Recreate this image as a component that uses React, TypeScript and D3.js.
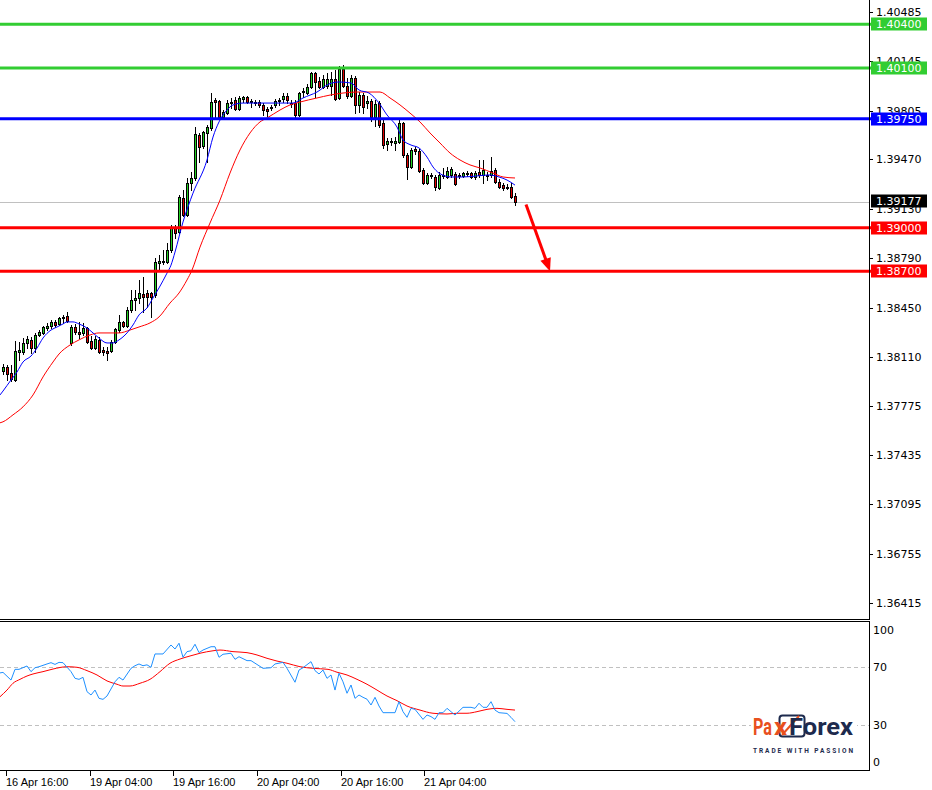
import React from 'react';
import * as d3 from 'd3';

// ---------- DATA ----------
const openPrices = [
  1.38013,1.38041,1.37999,1.37951,1.38144,1.38144,1.38206,1.38227,1.38171,1.38261,
  1.38275,1.38309,1.38323,1.38351,1.38337,1.38378,1.38392,1.38206,1.38316,1.38282,
  1.38275,1.38309,1.38220,1.38171,1.38227,1.38158,1.38151,1.38151,1.38213,1.38295,
  1.38351,1.38323,1.38433,1.38502,1.38516,1.38543,1.38550,1.38550,1.38536,1.38756,
  1.38763,1.38763,1.38846,1.38997,1.38970,1.39204,1.39087,1.39307,1.39341,1.39638,
  1.39562,1.39652,1.39686,1.39879,1.39872,1.39762,1.39789,1.39858,1.39879,1.39817,
  1.39886,1.39900,1.39872,1.39865,1.39865,1.39845,1.39817,1.39824,1.39845,1.39872,
  1.39886,1.39907,1.39858,1.39858,1.39776,1.39934,1.39927,1.39969,1.40065,1.40010,
  1.39969,1.39976,1.39976,1.40024,1.39893,1.40093,1.39976,1.39907,1.40031,1.39845,
  1.39913,1.39858,1.39872,1.39762,1.39858,1.39721,1.39576,1.39597,1.39583,1.39590,
  1.39721,1.39501,1.39418,1.39542,1.39528,1.39397,1.39308,1.39363,1.39349,1.39273,
  1.39356,1.39349,1.39363,1.39370,1.39356,1.39356,1.39376,1.39376,1.39349,1.39383,
  1.39363,1.39363,1.39363,1.39397,1.39314,1.39293,1.39280,1.39280,1.39218
];
const highPrices = [
  1.38061,1.38054,1.38054,1.38220,1.38213,1.38240,1.38254,1.38247,1.38275,1.38295,
  1.38323,1.38344,1.38364,1.38364,1.38385,1.38399,1.38419,1.38330,1.38337,1.38351,
  1.38344,1.38316,1.38254,1.38254,1.38247,1.38178,1.38178,1.38227,1.38309,1.38399,
  1.38357,1.38454,1.38571,1.38571,1.38640,1.38660,1.38571,1.38557,1.38791,1.38811,
  1.38846,1.38894,1.39018,1.39018,1.39224,1.39259,1.39341,1.39383,1.39693,1.39652,
  1.39666,1.39707,1.39927,1.39893,1.39879,1.39810,1.39879,1.39893,1.39900,1.39907,
  1.39907,1.39907,1.39886,1.39879,1.39879,1.39858,1.39831,1.39845,1.39886,1.39893,
  1.39927,1.39927,1.39879,1.39879,1.39934,1.39962,1.39989,1.40072,1.40072,1.40037,
  1.40051,1.40065,1.40072,1.40086,1.40113,1.40120,1.40031,1.40051,1.40045,1.39934,
  1.39927,1.39907,1.39886,1.39879,1.39872,1.39741,1.39617,1.39617,1.39624,1.39748,
  1.39728,1.39514,1.39549,1.39556,1.39542,1.39411,1.39376,1.39376,1.39363,1.39383,
  1.39411,1.39418,1.39418,1.39383,1.39376,1.39383,1.39390,1.39383,1.39390,1.39466,
  1.39466,1.39383,1.39486,1.39411,1.39335,1.39308,1.39301,1.39308,1.39238
];
const lowPrices = [
  1.37992,1.37951,1.37944,1.37944,1.38089,1.38130,1.38171,1.38137,1.38144,1.38254,
  1.38268,1.38295,1.38309,1.38316,1.38330,1.38344,1.38351,1.38192,1.38268,1.38240,
  1.38261,1.38206,1.38165,1.38165,1.38137,1.38123,1.38089,1.38144,1.38206,1.38282,
  1.38316,1.38316,1.38419,1.38433,1.38481,1.38419,1.38454,1.38385,1.38523,1.38708,
  1.38749,1.38756,1.38832,1.38928,1.38963,1.39080,1.39080,1.39259,1.39328,1.39452,
  1.39548,1.39452,1.39672,1.39755,1.39755,1.39755,1.39783,1.39824,1.39810,1.39810,
  1.39865,1.39858,1.39831,1.39845,1.39831,1.39776,1.39769,1.39810,1.39831,1.39845,
  1.39865,1.39858,1.39831,1.39762,1.39769,1.39900,1.39920,1.39962,1.39900,1.39962,
  1.39962,1.39962,1.39913,1.39879,1.39886,1.39969,1.39893,1.39900,1.39789,1.39796,
  1.39789,1.39824,1.39734,1.39700,1.39693,1.39548,1.39535,1.39569,1.39535,1.39583,
  1.39486,1.39334,1.39411,1.39507,1.39383,1.39301,1.39301,1.39342,1.39259,1.39266,
  1.39342,1.39342,1.39349,1.39293,1.39342,1.39349,1.39356,1.39342,1.39335,1.39349,
  1.39308,1.39328,1.39349,1.39308,1.39273,1.39259,1.39266,1.39204,1.39156
];
const closePrices = [
  1.38041,1.37992,1.37958,1.38151,1.38158,1.38206,1.38233,1.38171,1.38261,1.38282,
  1.38316,1.38323,1.38351,1.38330,1.38378,1.38385,1.38357,1.38316,1.38282,1.38268,
  1.38309,1.38213,1.38171,1.38233,1.38144,1.38144,1.38137,1.38213,1.38302,1.38351,
  1.38323,1.38433,1.38502,1.38516,1.38550,1.38523,1.38523,1.38523,1.38763,1.38770,
  1.38770,1.38846,1.39004,1.38963,1.39211,1.39087,1.39307,1.39341,1.39645,1.39555,
  1.39659,1.39693,1.39865,1.39865,1.39762,1.39796,1.39858,1.39865,1.39817,1.39893,
  1.39900,1.39865,1.39865,1.39858,1.39845,1.39810,1.39803,1.39831,1.39872,1.39879,
  1.39907,1.39879,1.39851,1.39776,1.39927,1.39941,1.39969,1.40065,1.40003,1.39969,
  1.40024,1.40024,1.40024,1.39886,1.40093,1.39976,1.39907,1.40031,1.39845,1.39913,
  1.39831,1.39872,1.39762,1.39851,1.39707,1.39569,1.39597,1.39590,1.39597,1.39721,
  1.39501,1.39418,1.39535,1.39528,1.39390,1.39308,1.39363,1.39356,1.39280,1.39363,
  1.39363,1.39390,1.39404,1.39301,1.39363,1.39376,1.39370,1.39349,1.39376,1.39363,
  1.39397,1.39356,1.39390,1.39314,1.39280,1.39273,1.39273,1.39211,1.39177
];

// fast MA (blue) [bar index, price]
const fastMA: [number, number][] = [
  [-0.75,1.37848],[0,1.37875],[2,1.37951],[3.5,1.38006],[5,1.38075],[7,1.38116],[8.5,1.38171],
  [10,1.38240],[12,1.38295],[13.5,1.38316],[15,1.38337],[16,1.38351],[17.5,1.38351],[19,1.38337],
  [21,1.38309],[22.5,1.38275],[24,1.38240],[26,1.38206],[27.5,1.38206],[29,1.38227],[31,1.38275],
  [32.5,1.38330],[34,1.38399],[36,1.38447],[37.5,1.38516],[39,1.38585],[41,1.38687],[42,1.38742],
  [43,1.38832],[45,1.39039],[47.5,1.39238],[51,1.39466],[52.5,1.39624],[54,1.39728],[56,1.39810],
  [57.5,1.39845],[60,1.39858],[63.5,1.39858],[67,1.39858],[70,1.39858],[72.5,1.39858],[75,1.39893],
  [78.5,1.39934],[81.5,1.39989],[84,1.40003],[87,1.39996],[89,1.39948],[91.5,1.39927],[94,1.39858],
  [96,1.39776],[98.5,1.39693],[100,1.39604],[102,1.39569],[104,1.39549],[106,1.39486],[107.5,1.39418],
  [109,1.39376],[112,1.39349],[115,1.39349],[118.5,1.39356],[121.5,1.39363],[124,1.39349],
  [126,1.39328],[128,1.39293]
];
// slow MA (red)
const slowMA: [number, number][] = [
  [-0.75,1.37656],[0,1.37663],[2.5,1.37711],[5,1.37766],[7.5,1.37848],[10,1.37972],[12.5,1.38075],
  [14,1.38130],[16.75,1.38192],[19,1.38227],[21.75,1.38261],[24,1.38275],[26.75,1.38275],[29,1.38275],
  [31.75,1.38295],[34,1.38316],[36.75,1.38344],[39,1.38385],[41.75,1.38481],[44,1.38550],[46,1.38640],
  [47.25,1.38708],[49.25,1.38866],[51.75,1.39032],[54.25,1.39190],[56.75,1.39376],[59.25,1.39535],
  [61.75,1.39652],[64.25,1.39728],[66,1.39755],[69.25,1.39810],[71.75,1.39845],[74.25,1.39865],
  [78.5,1.39893],[81.75,1.39913],[85,1.39927],[88.5,1.39934],[91.75,1.39934],[94.25,1.39934],
  [96.75,1.39893],[99.25,1.39845],[101.75,1.39789],[104.25,1.39728],[106.75,1.39652],[109.25,1.39583],
  [111.75,1.39514],[114.25,1.39466],[116.75,1.39432],[119.25,1.39411],[122.5,1.39376],[125,1.39349],
  [128,1.39342]
];

// RSI (blue) and its signal (red) [bar index, value]
const rsiLine: [number, number][] = [
  [-1,66],[0,66.5],[2,61.2],[3,68.6],[4,68.6],[6,70.9],[7,67],[8,69.7],[9,70.4],[11,72.3],[12,73.2],
  [13,72],[14,73.4],[15,73.2],[17,67],[18,62.4],[19,61.7],[20,63.1],[21,53.2],[22,50.9],[23,54.3],
  [24,48.6],[25,47.9],[26,50.2],[28,60],[29,63.1],[30,61.2],[32,69.3],[33,71.1],[34,72.3],[35,71.1],
  [36,71.7],[37,70],[38,79.2],[40,79.2],[42,85.4],[43,82.6],[44,86.6],[45,76.9],[46,80.8],[47,81.4],
  [48,85.9],[49,80.1],[50,81.9],[52,84.2],[53,84.2],[54,76.9],[55,79],[57,79.7],[58,75.5],[59,77.3],
  [61,74.6],[62,74.6],[65,69.3],[67,69.7],[68,72.3],[70,73.4],[71,69.3],[73,59.7],[74,68.1],[75,69.7],
  [77,73.9],[78,67.7],[79,65.4],[80,68.1],[81,62.4],[82,64.7],[83,54.3],[84,65.9],[85,60],[86,52.1],
  [87,57.8],[88,48.6],[89,50.9],[90,49.3],[91,48],[92,44],[93,49.3],[94,43.3],[95,38.7],[98,38.7],
  [99,46.3],[100,39.4],[101,35.5],[102,41.7],[103,41],[105,34.1],[106,37.1],[107,36],[108,34.1],
  [109,38.7],[110,38.7],[111,41.7],[112,39.4],[113,37.1],[115,42.4],[117,42.4],[118,41.7],[119,45.2],
  [120,42.4],[121,42.4],[122,46.3],[123,40.5],[124,38.7],[126,38.2],[127,35.5],[128,32.5]
];
const rsiSignal: [number, number][] = [
  [-0.75,49.7],[1,54.3],[2.5,59],[4.25,61.7],[6,64],[7.5,65.4],[10,67],[12.5,68.8],[16,70.4],
  [18.5,70],[21,67.7],[23.5,64.7],[26,60.6],[28.5,58.3],[30,57.1],[31.75,57.1],[34.25,59],
  [36.75,61.7],[39.25,67],[41.75,72.8],[44.25,75.7],[46.75,77.8],[49.25,79.7],[52.5,81.4],
  [54.25,81.9],[57.5,80.8],[61,80.1],[63.5,78.5],[66,76.2],[68.5,74.3],[71,72.8],[74.25,70.4],
  [77.5,69.3],[81.25,68.6],[83.5,66.6],[86,64.7],[88.5,61.7],[91,58.3],[93.5,54.3],[96,50.2],
  [98.5,47],[101,43.3],[104.25,40.5],[107.5,38.3],[111,37.8],[113.5,38.3],[116,38.3],[118.5,39.4],
  [121,41],[123.5,41.7],[126,41],[128,40.5]
];

const resistanceLevels = [1.404, 1.401];
const pivotLevels = [1.3975];
const supportLevels = [1.39, 1.387];
const lastPrice = 1.39177;
const priceTicks = [1.40485,1.40145,1.39805,1.39470,1.39130,1.38790,1.38450,1.38110,1.37775,1.37435,1.37095,1.36755,1.36415];
const rsiTicks = [100, 70, 30, 0];
const rsiLevels = [70, 30];
const timeLabels = ['16 Apr 16:00','19 Apr 04:00','19 Apr 16:00','20 Apr 04:00','20 Apr 16:00','21 Apr 04:00'];
const timeTickIdx = [0.75, 21.75, 42.5, 63.5, 84.5, 105.25];
const arrowFrom: [number, number] = [130.75, 1.3916];
const arrowTo: [number, number] = [136.75, 1.387];

// ---------- CHART ----------
const W = 932, H = 790;
const PR = 869;      // plot right edge
const MAIN_B = 619;  // main panel bottom
const IND_T = 621;   // indicator top
const IND_B = 770;   // indicator bottom

const fmt = (v: number) => v.toFixed(5);

export default function App() {
  const x = d3.scaleLinear().domain([0, 128]).range([3, 515]);
  const y = d3.scaleLinear().domain([1.36415, 1.40485]).range([603.06, 12]);
  const ry = d3.scaleLinear().domain([0, 100]).range([768.8, 623.8]);

  const maLine = d3.line<[number, number]>().x(d => x(d[0])).y(d => y(d[1])).curve(d3.curveMonotoneX);
  const rsiPath = d3.line<[number, number]>().x(d => x(d[0])).y(d => ry(d[1]));
  const sigPath = d3.line<[number, number]>().x(d => x(d[0])).y(d => ry(d[1])).curve(d3.curveMonotoneX);

  const priceFont = 'DejaVu Sans';
  const green = '#32CD32';

  // arrow geometry
  const ax0 = x(arrowFrom[0]), ay0 = y(arrowFrom[1]);
  const ax1 = x(arrowTo[0]), ay1 = y(arrowTo[1]);
  const len = Math.hypot(ax1 - ax0, ay1 - ay0);
  const ux = (ax1 - ax0) / len, uy = (ay1 - ay0) / len;
  const hl = 13, hw = 5.5;
  const bx = ax1 - ux * hl, by = ay1 - uy * hl;
  const head = `${ax1},${ay1} ${bx - uy * hw},${by + ux * hw} ${bx + uy * hw},${by - ux * hw}`;

  const levelBox = (p: number, color: string, key: string) => {
    const yy = y(p);
    return (
      <g key={key}>
        <line x1={0} x2={871} y1={yy} y2={yy} stroke={color} strokeWidth={3} />
        <rect x={871} y={Math.round(yy) - 6.5} width={56} height={13} fill={color} />
        <text x={876} y={Math.round(yy) + 4} fontFamily={priceFont} fontSize={11} fill="#fff">{fmt(p)}</text>
      </g>
    );
  };

  return (
    <svg width={W} height={H} style={{ position: 'absolute', left: 0, top: 0, background: '#fff' }}
      xmlns="http://www.w3.org/2000/svg">
      <defs>
        <clipPath id="mainClip"><rect x={0} y={0} width={PR} height={MAIN_B} /></clipPath>
        <clipPath id="indClip"><rect x={0} y={IND_T + 1} width={PR} height={IND_B - IND_T - 1} /></clipPath>
      </defs>
      <rect x={0} y={0} width={W} height={H} fill="#fff" />

      {/* price axis ticks and labels */}
      {priceTicks.map((t, i) => {
        const yy = Math.round(y(t));
        return (
          <g key={'pt' + i}>
            <line x1={PR} x2={PR + 4} y1={yy + 0.5} y2={yy + 0.5} stroke="#000" />
            <text x={876} y={yy + 4} fontFamily={priceFont} fontSize={11} fill="#000">{fmt(t)}</text>
          </g>
        );
      })}

      <g clipPath="url(#mainClip)">
        {/* last price line */}
        <line x1={0} x2={PR} y1={Math.round(y(lastPrice)) + 0.5} y2={Math.round(y(lastPrice)) + 0.5} stroke="#C0C0C0" />
        {/* candles */}
        {openPrices.map((o, i) => {
          const c = closePrices[i], h = highPrices[i], l = lowPrices[i];
          const cx = Math.round(x(i));
          const yt = Math.round(y(Math.max(o, c)));
          const yb = Math.round(y(Math.min(o, c)));
          const up = c >= o;
          return (
            <g key={'c' + i}>
              <line x1={cx + 0.5} x2={cx + 0.5} y1={Math.round(y(h))} y2={Math.round(y(l)) + 1} stroke="#000" />
              {yb - yt < 1 ? (
                <line x1={cx - 1} x2={cx + 2} y1={yt + 0.5} y2={yt + 0.5} stroke="#000" />
              ) : (
                <rect x={cx - 0.5} y={yt + 0.5} width={2} height={yb - yt} fill={up ? '#22D022' : '#E00000'} stroke="#000" />
              )}
            </g>
          );
        })}
        {/* moving averages */}
        <path d={maLine(slowMA) || ''} fill="none" stroke="#FF0000" strokeWidth={1} />
        <path d={maLine(fastMA) || ''} fill="none" stroke="#0000FF" strokeWidth={1} />
      </g>

      {/* horizontal levels with labels */}
      {resistanceLevels.map((p, i) => levelBox(p, green, 'r' + i))}
      {pivotLevels.map((p, i) => levelBox(p, '#0000FF', 'p' + i))}
      {supportLevels.map((p, i) => levelBox(p, '#FF0000', 's' + i))}

      {/* last price label */}
      <rect x={871} y={Math.round(y(lastPrice)) - 7.5} width={56} height={13} fill="#000" />
      <text x={876} y={Math.round(y(lastPrice)) + 3} fontFamily={priceFont} fontSize={11} fill="#fff">{fmt(lastPrice)}</text>

      {/* arrow */}
      <line x1={ax0} y1={ay0} x2={bx + ux * 2} y2={by + uy * 2} stroke="#FF0000" strokeWidth={3} />
      <polygon points={head} fill="#FF0000" />

      {/* main panel frame */}
      <line x1={0} x2={PR + 0.5} y1={MAIN_B + 0.5} y2={MAIN_B + 0.5} stroke="#000" />
      <line x1={PR + 0.5} x2={PR + 0.5} y1={0} y2={MAIN_B + 1} stroke="#000" />

      {/* indicator panel */}
      <line x1={0} x2={PR + 0.5} y1={IND_T + 0.5} y2={IND_T + 0.5} stroke="#000" />
      <line x1={PR + 0.5} x2={PR + 0.5} y1={IND_T} y2={IND_B + 1} stroke="#000" />
      {rsiLevels.map((v, i) => (
        <line key={'rl' + i} x1={0} x2={PR} y1={Math.round(ry(v)) + 0.5} y2={Math.round(ry(v)) + 0.5}
          stroke="#C0C0C0" strokeDasharray="4,3" />
      ))}
      {rsiTicks.map((v, i) => {
        const yy = Math.min(Math.max(ry(v), 630), 762);
        return (
          <text key={'rt' + i} x={873} y={yy + 4} fontFamily={priceFont} fontSize={11} fill="#000">{v}</text>
        );
      })}

      {/* watermark logo */}
      <g>
        <rect x={751} y={712} width={106} height={45} fill="#fff" />
        <rect x={779.5} y={715.5} width={25} height={21} rx={3} fill="none" stroke="#1D2A4D" strokeWidth={2} />
        <line x1={782} y1={735} x2={799} y2={716} stroke="#E8501E" strokeWidth={2} />
        <text x={753} y={735} fontFamily="Roboto" fontWeight={700} fontSize={24} fill="#E8501E"
          textLength={19} lengthAdjust="spacingAndGlyphs">Pa</text>
        <text x={774} y={735} fontFamily="Roboto" fontWeight={700} fontSize={24} fill="#E8501E"
          textLength={13} lengthAdjust="spacingAndGlyphs">x</text>
        <text x={789} y={735} fontFamily="Roboto" fontWeight={700} fontSize={24} fill="#1D2A4D"
          textLength={64} lengthAdjust="spacingAndGlyphs">Forex</text>
        <text x={753} y={753} fontFamily="Roboto" fontWeight={700} fontSize={6.5} fill="#1D2A4D"
          textLength={100} lengthAdjust="spacing">TRADE WITH PASSION</text>
      </g>

      <g clipPath="url(#indClip)">
        <path d={sigPath(rsiSignal) || ''} fill="none" stroke="#FF0000" strokeWidth={1} />
        <path d={rsiPath(rsiLine) || ''} fill="none" stroke="#1E90FF" strokeWidth={1} />
      </g>
      <line x1={0} x2={PR + 0.5} y1={IND_B + 0.5} y2={IND_B + 0.5} stroke="#000" />

      {/* time axis */}
      {timeTickIdx.map((t, i) => {
        const xx = Math.round(x(t));
        return (
          <g key={'tt' + i}>
            <line x1={xx + 0.5} x2={xx + 0.5} y1={IND_B} y2={IND_B + 6} stroke="#000" />
            <text x={xx} y={786} fontFamily="Liberation Sans" fontSize={11} fill="#000">{timeLabels[i]}</text>
          </g>
        );
      })}
    </svg>
  );
}
